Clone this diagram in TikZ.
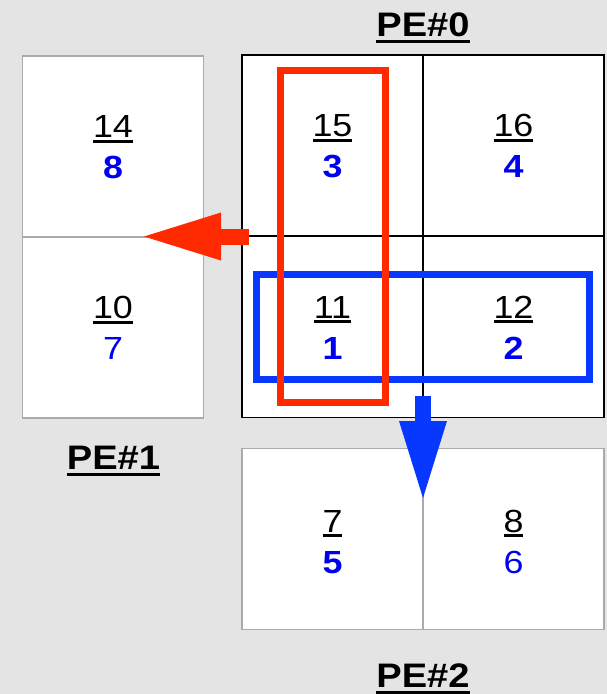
\documentclass[tikz,border=0pt]{standalone}
\usepackage{fontspec}
\setmainfont{Liberation Sans}[FakeStretch=1.12]
\usetikzlibrary{arrows.meta}
\definecolor{bggray}{RGB}{228,228,228}
\definecolor{cellgray}{RGB}{170,170,170}
\definecolor{markred}{RGB}{255,42,0}
\definecolor{markblue}{RGB}{8,56,255}
\definecolor{numblue}{RGB}{0,0,240}
\newcommand{\ulnum}[1]{\setbox0\hbox{#1}\rlap{\rule[-5pt]{\wd0}{2.6pt}}\box0}
\newcommand{\ulpe}[1]{\setbox0\hbox{#1}\rlap{\rule[-6.5pt]{\wd0}{2.8pt}}\box0}
\tikzset{
	cell/.style={draw=cellgray, fill=white, line width=1.5pt, minimum width=181pt, minimum height=181pt, inner sep=0pt, outer sep=0pt},
	pecell/.style={cell, draw=black},
	numtop/.style={anchor=base, inner sep=0pt, font=\fontsize{32}{38}\selectfont},
	numbot/.style={anchor=base, inner sep=0pt, text=numblue, font=\fontsize{32}{38}\selectfont\bfseries},
	numbotthin/.style={numbot, font=\fontsize{32}{38}\selectfont},
	pelabel/.style={anchor=base, inner sep=0pt, font=\fontsize{34}{40}\selectfont\bfseries},
	markbox/.style={line width=7pt},
	bigarrow/.style={line width=16pt, -{Triangle[length=77pt, width=48pt, line width=0pt]}}
}
\begin{document}
\begin{tikzpicture}[x=1pt, y=-1pt]
	\fill[bggray] (0,0) rectangle (607,694);
	\useasboundingbox (0,0) rectangle (607,694);
	\node[cell] (c14) at (113,146.5) {};
	\node[cell] (c10) at (113,327.5) {};
	\node[cell] (c7) at (332.5,539) {};
	\node[cell] (c8) at (513.5,539) {};
	\node[pecell] (c15) at (332.5,145.5) {};
	\node[pecell] (c16) at (513.5,145.5) {};
	\node[pecell] (c11) at (332.5,327) {};
	\node[pecell] (c12) at (513.5,327) {};
	\node[numtop] (t14) at ([yshift=9pt]c14.center) {\ulnum{14}};
	\node[numbot] (b8) at ([yshift=-32pt]c14.center) {8};
	\node[numtop] (t10) at ([yshift=9pt]c10.center) {\ulnum{10}};
	\node[numbotthin] (b7) at ([yshift=-32pt]c10.center) {7};
	\node[numtop] (t15) at ([yshift=9pt]c15.center) {\ulnum{15}};
	\node[numbot] (b3) at ([yshift=-32pt]c15.center) {3};
	\node[numtop] (t16) at ([yshift=9pt]c16.center) {\ulnum{16}};
	\node[numbot] (b4) at ([yshift=-32pt]c16.center) {4};
	\node[numtop] (t11) at ([yshift=9pt]c11.center) {\ulnum{11}};
	\node[numbot] (b1) at ([yshift=-32pt]c11.center) {1};
	\node[numtop] (t12) at ([yshift=9pt]c12.center) {\ulnum{12}};
	\node[numbot] (b2) at ([yshift=-32pt]c12.center) {2};
	\node[numtop] (t7) at ([yshift=7pt]c7.center) {\ulnum{7}};
	\node[numbot] (b5) at ([yshift=-34pt]c7.center) {5};
	\node[numtop] (t8) at ([yshift=7pt]c8.center) {\ulnum{8}};
	\node[numbotthin] (b6) at ([yshift=-34pt]c8.center) {6};
	\node[pelabel] (pe0) at (423,36.7) {\ulpe{PE\#0}};
	\node[pelabel] (pe1) at (113.5,469) {\ulpe{PE\#1}};
	\node[pelabel] (pe2) at (423,687) {\ulpe{PE\#2}};
	\draw[markblue, markbox] (256.7,274.5) rectangle (589.7,379.7);
	\draw[markred, markbox] (280,70) rectangle (385,402.5);
	\coordinate (redtip) at (144,236.5);
	\coordinate (bluetip) at (423,498);
	\draw[markred, bigarrow] ([xshift=7pt]c11.north west) -- (redtip);
	\draw[markblue, bigarrow] ([yshift=21.5pt]c11.south east) -- (bluetip);
\end{tikzpicture}
\end{document}
